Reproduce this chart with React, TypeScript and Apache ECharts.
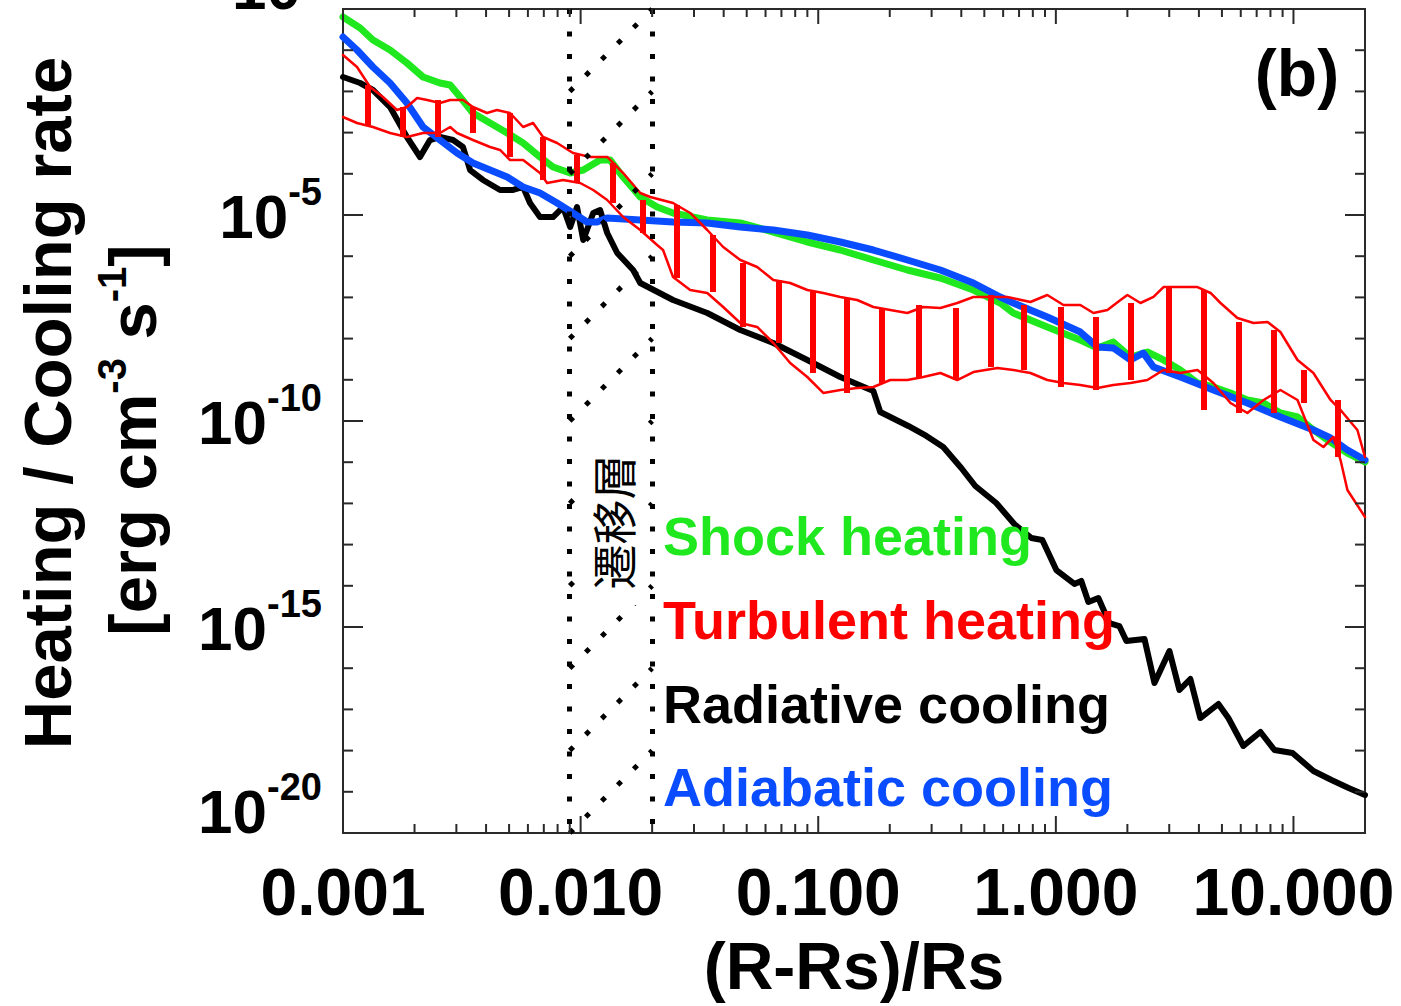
import React, { useEffect, useRef } from 'react';
import * as echarts from 'echarts';

const FONT = '"Liberation Sans", Arial, Helvetica, sans-serif';
const AXIS_COLOR = '#2a2a2a';
const GREEN = '#1fe81f';
const RED = '#ff0000';
const BLUE = '#0a4cff';

// All curve points are [log10((R-Rs)/Rs), log10(rate)].
const shockPts: [number, number][] = [
  [-3.0, -0.194], [-2.928, -0.461], [-2.874, -0.752], [-2.802, -0.995], [-2.731, -1.311], [-2.663, -1.65],
  [-2.592, -1.796], [-2.549, -1.845], [-2.507, -2.136], [-2.453, -2.524], [-2.381, -2.767], [-2.309, -3.01],
  [-2.242, -3.252], [-2.171, -3.592], [-2.116, -3.835], [-2.044, -3.981], [-1.989, -3.908], [-1.918, -3.665],
  [-1.876, -3.665], [-1.821, -4.078], [-1.749, -4.563], [-1.678, -4.806], [-1.611, -4.951], [-1.467, -5.121],
  [-1.328, -5.194], [-1.189, -5.413], [-1.046, -5.655], [-0.907, -5.85], [-0.768, -6.092], [-0.625, -6.335],
  [-0.486, -6.529], [-0.347, -6.82], [-0.234, -7.136], [-0.179, -7.379], [-0.036, -7.718], [0.103, -8.034],
  [0.175, -8.228], [0.242, -8.083], [0.314, -8.447], [0.385, -8.325], [0.453, -8.519], [0.524, -8.762],
  [0.596, -9.078], [0.663, -9.175], [0.735, -9.32], [0.806, -9.49], [0.874, -9.563], [0.945, -9.806],
  [1.017, -9.903], [1.084, -10.218], [1.156, -10.51], [1.227, -10.777], [1.301, -10.995],
];

const adiabaticPts: [number, number][] = [
  [-3.0, -0.68], [-2.941, -0.995], [-2.874, -1.408], [-2.802, -1.796], [-2.731, -2.282], [-2.663, -2.864],
  [-2.592, -3.18], [-2.52, -3.495], [-2.453, -3.738], [-2.381, -3.908], [-2.309, -4.078], [-2.242, -4.32],
  [-2.171, -4.466], [-2.099, -4.709], [-2.032, -4.951], [-1.973, -5.17], [-1.931, -5.17], [-1.888, -5.073],
  [-1.749, -5.121], [-1.611, -5.17], [-1.467, -5.194], [-1.328, -5.291], [-1.189, -5.364], [-1.046, -5.485],
  [-0.907, -5.655], [-0.768, -5.85], [-0.625, -6.092], [-0.486, -6.335], [-0.347, -6.65], [-0.234, -6.99],
  [-0.179, -7.136], [-0.036, -7.476], [0.103, -7.84], [0.175, -8.204], [0.242, -8.228], [0.314, -8.519],
  [0.368, -8.35], [0.411, -8.689], [0.524, -8.932], [0.663, -9.248], [0.806, -9.563], [0.945, -9.903],
  [1.084, -10.218], [1.156, -10.413], [1.227, -10.704], [1.301, -10.947],
];

const radiativePts: [number, number][] = [
  [-3.0, -1.65], [-2.928, -1.796], [-2.874, -1.966], [-2.802, -2.379], [-2.731, -3.107], [-2.676, -3.592],
  [-2.634, -3.18], [-2.592, -3.107], [-2.537, -3.18], [-2.495, -3.35], [-2.465, -3.908], [-2.411, -4.15],
  [-2.339, -4.393], [-2.284, -4.393], [-2.242, -4.32], [-2.213, -4.709], [-2.171, -5.049], [-2.116, -5.049],
  [-2.074, -4.806], [-2.044, -5.291], [-2.015, -4.806], [-1.989, -5.607], [-1.947, -4.951], [-1.918, -4.879],
  [-1.888, -5.437], [-1.846, -5.922], [-1.779, -6.335], [-1.749, -6.65], [-1.611, -7.063], [-1.467, -7.379],
  [-1.328, -7.791], [-1.189, -8.107], [-1.046, -8.519], [-0.907, -8.932], [-0.768, -9.272], [-0.739, -9.782],
  [-0.621, -10.121], [-0.545, -10.364], [-0.474, -10.631], [-0.398, -11.141], [-0.339, -11.578], [-0.251, -11.99],
  [-0.175, -12.5], [-0.103, -12.84], [-0.057, -12.888], [0.002, -13.617], [0.078, -13.956], [0.107, -13.883],
  [0.137, -14.393], [0.179, -14.296], [0.225, -14.903], [0.267, -14.976], [0.297, -15.34], [0.373, -15.291],
  [0.415, -16.359], [0.478, -15.583], [0.52, -16.529], [0.566, -16.262], [0.608, -17.209], [0.684, -16.869],
  [0.726, -17.209], [0.789, -17.888], [0.861, -17.549], [0.92, -17.985], [0.996, -18.058], [1.084, -18.495],
  [1.16, -18.714], [1.232, -18.908], [1.301, -19.078],
];

const turbUpperPts: [number, number][] = [
  [-3.0, -1.117], [-2.941, -1.408], [-2.886, -1.893], [-2.832, -2.136], [-2.773, -2.451], [-2.731, -2.379],
  [-2.688, -2.16], [-2.646, -2.209], [-2.592, -2.282], [-2.549, -2.209], [-2.495, -2.209], [-2.453, -2.379],
  [-2.394, -2.524], [-2.352, -2.451], [-2.297, -2.524], [-2.242, -2.864], [-2.2, -2.767], [-2.158, -3.107],
  [-2.099, -3.252], [-2.032, -3.495], [-1.96, -3.592], [-1.888, -3.592], [-1.821, -3.981], [-1.749, -4.466],
  [-1.707, -4.563], [-1.611, -4.709], [-1.539, -4.951], [-1.467, -5.364], [-1.4, -5.777], [-1.328, -6.092],
  [-1.257, -6.262], [-1.189, -6.578], [-1.118, -6.65], [-1.046, -6.82], [-0.979, -6.893], [-0.907, -6.99],
  [-0.836, -7.063], [-0.768, -7.233], [-0.697, -7.306], [-0.625, -7.379], [-0.558, -7.233], [-0.486, -7.257],
  [-0.415, -7.136], [-0.347, -6.99], [-0.276, -6.99], [-0.204, -6.99], [-0.107, -7.112], [-0.036, -6.942],
  [0.032, -7.184], [0.103, -7.184], [0.158, -7.379], [0.217, -7.306], [0.272, -7.063], [0.301, -6.942],
  [0.356, -7.136], [0.411, -6.99], [0.453, -6.748], [0.524, -6.748], [0.596, -6.748], [0.651, -6.893],
  [0.693, -7.136], [0.764, -7.5], [0.832, -7.621], [0.891, -7.597], [0.945, -7.84], [1.017, -8.519],
  [1.084, -8.835], [1.156, -9.49], [1.198, -9.733], [1.269, -10.218], [1.301, -10.874],
];

const turbLowerPts: [number, number][] = [
  [-3.0, -2.621], [-2.941, -2.767], [-2.874, -2.864], [-2.802, -3.01], [-2.731, -3.107], [-2.663, -3.01],
  [-2.592, -3.01], [-2.549, -2.864], [-2.52, -3.01], [-2.453, -3.18], [-2.381, -3.35], [-2.339, -3.422],
  [-2.297, -3.665], [-2.242, -3.665], [-2.171, -3.981], [-2.141, -4.223], [-2.074, -4.15], [-2.002, -4.223],
  [-1.947, -4.393], [-1.888, -4.636], [-1.821, -5.049], [-1.749, -5.364], [-1.678, -5.728], [-1.653, -5.85],
  [-1.611, -6.505], [-1.539, -6.82], [-1.467, -6.893], [-1.4, -7.233], [-1.328, -7.621], [-1.257, -7.718],
  [-1.189, -8.107], [-1.118, -8.592], [-1.046, -8.932], [-0.979, -9.32], [-0.907, -9.248], [-0.836, -9.199],
  [-0.768, -9.175], [-0.697, -9.005], [-0.625, -9.005], [-0.558, -8.932], [-0.486, -8.835], [-0.415, -9.005],
  [-0.347, -8.811], [-0.246, -8.714], [-0.179, -8.762], [-0.107, -8.835], [-0.036, -9.005], [0.032, -9.078],
  [0.103, -9.126], [0.175, -9.199], [0.242, -9.126], [0.314, -9.078], [0.385, -9.005], [0.453, -8.762],
  [0.524, -8.835], [0.596, -8.762], [0.663, -9.078], [0.735, -9.563], [0.806, -9.806], [0.874, -9.49],
  [0.945, -9.248], [1.017, -9.49], [1.084, -10.461], [1.126, -10.631], [1.168, -10.388], [1.198, -10.947],
  [1.227, -11.675], [1.301, -12.33],
];

// Thick red bars of the turbulent heating: [log10 x, log10 top, log10 bottom]
const turbBars: [number, number, number][] = [
  [-2.895, -1.845, -2.816], [-2.747, -2.379, -3.107], [-2.6, -2.209, -3.107], [-2.453, -2.379, -3.01],
  [-2.297, -2.524, -3.592], [-2.158, -3.107, -4.15], [-2.015, -3.544, -4.199], [-1.863, -3.738, -4.709],
  [-1.737, -4.636, -5.437], [-1.594, -4.757, -6.529], [-1.446, -5.485, -6.869], [-1.316, -6.165, -7.718],
  [-1.168, -6.578, -8.107], [-1.025, -6.869, -8.835], [-0.878, -7.015, -9.32], [-0.731, -7.257, -9.078],
  [-0.579, -7.184, -8.932], [-0.423, -7.257, -9.005], [-0.276, -6.942, -8.689], [-0.137, -7.184, -8.762],
  [0.019, -7.233, -9.175], [0.166, -7.476, -9.248], [0.314, -7.136, -9.005], [0.474, -6.772, -8.835],
  [0.621, -6.82, -9.733], [0.768, -7.597, -9.806], [0.916, -7.791, -9.806], [1.042, -8.762, -9.563],
  [1.185, -9.49, -10.874],
];

// Transition region (遷移層) boundaries and its hatching (start/end exponents)
const trLeft = 0.009;
const trRight = 0.02;
const hatchStartExps = [-20, -18, -16, -14, -12, -10, -8, -6, -4, -2];
const hatchEndExps = [-18, -16, -14, -12, -10, -8, -6, -4, -2, 0];

// Axis ticks
const X_MIN = 0.001;
const X_MAX = 20;
const Y_MIN = 1e-20;
const Y_MAX = 1;
const xMajorTicks = [0.001, 0.01, 0.1, 1, 10];
const xMinorTicks = [
  0.002, 0.003, 0.004, 0.005, 0.006, 0.007, 0.008, 0.009,
  0.02, 0.03, 0.04, 0.05, 0.06, 0.07, 0.08, 0.09,
  0.2, 0.3, 0.4, 0.5, 0.6, 0.7, 0.8, 0.9,
  2, 3, 4, 5, 6, 7, 8, 9,
];
const yMajorTicks = [1e-20, 1e-15, 1e-10, 1e-5, 1];
const yMinorTicks = [
  1e-19, 1e-18, 1e-17, 1e-16, 1e-14, 1e-13, 1e-12, 1e-11,
  1e-9, 1e-8, 1e-7, 1e-6, 1e-4, 1e-3, 1e-2, 1e-1,
];
const yLabelExps = [-20, -15, -10, -5, 0];

const legendItems = [
  { text: 'Shock heating', color: GREEN },
  { text: 'Turbulent heating', color: RED },
  { text: 'Radiative cooling', color: '#000000' },
  { text: 'Adiabatic cooling', color: BLUE },
];

const toData = (pts: [number, number][]) => pts.map(([lx, ly]) => [Math.pow(10, lx), Math.pow(10, ly)]);

const tickStyle = { stroke: AXIS_COLOR, lineWidth: 2 };

function xTickSeries(values: number[], bottomLen: number, topLen: number) {
  return {
    type: 'custom',
    coordinateSystem: 'cartesian2d',
    silent: true,
    clip: false,
    z: 20,
    data: values.map((v) => [v, 1e-10]),
    renderItem: (params: any, api: any) => {
      const cs = params.coordSys;
      const px = api.coord([api.value(0), 1e-10])[0];
      const b = cs.y + cs.height;
      const t = cs.y;
      return {
        type: 'group',
        children: [
          { type: 'line', shape: { x1: px, y1: b, x2: px, y2: b - bottomLen }, style: tickStyle },
          { type: 'line', shape: { x1: px, y1: t, x2: px, y2: t + topLen }, style: tickStyle },
        ],
      };
    },
  };
}

function yTickSeries(values: number[], leftLen: number, rightLen: number) {
  return {
    type: 'custom',
    coordinateSystem: 'cartesian2d',
    silent: true,
    clip: false,
    z: 20,
    data: values.map((v) => [0.01, v]),
    renderItem: (params: any, api: any) => {
      const cs = params.coordSys;
      const py = api.coord([0.01, api.value(1)])[1];
      const l = cs.x;
      const r = cs.x + cs.width;
      return {
        type: 'group',
        children: [
          { type: 'line', shape: { x1: l, y1: py, x2: l + leftLen, y2: py }, style: tickStyle },
          { type: 'line', shape: { x1: r, y1: py, x2: r - rightLen, y2: py }, style: tickStyle },
        ],
      };
    },
  };
}

const yLabelSeries = {
  type: 'custom',
  coordinateSystem: 'cartesian2d',
  silent: true,
  clip: false,
  z: 20,
  data: yLabelExps.map((e) => [0.01, Math.pow(10, e)]),
  renderItem: (params: any, api: any) => {
    const cs = params.coordSys;
    const e = yLabelExps[params.dataIndex];
    const py = api.coord([0.01, Math.pow(10, e)])[1];
    const isEnd = e === -20 || e === 0;
    return {
      type: 'text',
      x: cs.x - 21,
      y: py - 5 - (isEnd ? 23 : 0),
      style: {
        text: `{b|10}{s|${e}}`,
        align: 'right',
        verticalAlign: 'middle',
        fill: '#000',
        rich: {
          b: { fontSize: 62, fontWeight: 'bold', fontFamily: FONT, lineHeight: 62, verticalAlign: 'bottom', fill: '#000' },
          s: { fontSize: 38, fontWeight: 'bold', fontFamily: FONT, padding: [0, 0, 36, 0], verticalAlign: 'top', fill: '#000' },
        },
      },
    };
  },
};

function lineSeries(name: string, pts: [number, number][], color: string, width: number) {
  return {
    name,
    type: 'line',
    data: toData(pts),
    showSymbol: false,
    symbol: 'none',
    smooth: false,
    silent: true,
    lineStyle: { color, width, join: 'round', cap: 'round' },
    z: 5,
  };
}

export default function App() {
  const ref = useRef<HTMLDivElement>(null);

  useEffect(() => {
    if (!ref.current) return;
    const chart = echarts.init(ref.current, undefined, { renderer: 'svg' });

    const option: any = {
      animation: false,
      backgroundColor: '#ffffff',
      grid: {
        left: 343,
        right: 36,
        top: 9,
        bottom: 173,
        show: true,
        borderColor: AXIS_COLOR,
        borderWidth: 2,
        backgroundColor: 'transparent',
      },
      xAxis: {
        type: 'log',
        logBase: 10,
        min: X_MIN,
        max: X_MAX,
        name: '(R-Rs)/Rs',
        nameLocation: 'middle',
        nameGap: 100,
        nameTextStyle: { fontSize: 66, fontWeight: 'bold', fontFamily: FONT, color: '#000' },
        axisLine: { show: false },
        axisTick: { show: false },
        splitLine: { show: false },
        axisLabel: {
          fontSize: 66,
          lineHeight: 66,
          fontWeight: 'bold',
          fontFamily: FONT,
          color: '#000',
          margin: 26,
          formatter: (v: number) => {
            const lg = Math.log10(v);
            if (Math.abs(lg - Math.round(lg)) > 0.01) return '';
            return Math.pow(10, Math.round(lg)).toFixed(3);
          },
        },
      },
      yAxis: {
        type: 'log',
        logBase: 10,
        min: Y_MIN,
        max: Y_MAX,
        axisLine: { show: false },
        axisTick: { show: false },
        axisLabel: { show: false },
        splitLine: { show: false },
      },
      graphic: [
        {
          type: 'rect',
          z: 100,
          shape: { x: 581, y: 425, width: 61, height: 180 },
          style: { fill: '#ffffff' },
        },
        {
          type: 'text',
          z: 101,
          x: 612,
          y: 522,
          rotation: Math.PI / 2,
          style: {
            text: '遷移層',
            fontSize: 45,
            fontFamily: '"Noto Sans CJK JP", sans-serif',
            fill: '#000',
            align: 'center',
            verticalAlign: 'middle',
          },
        },
        {
          type: 'text',
          z: 101,
          x: 47,
          y: 403,
          rotation: Math.PI / 2,
          style: {
            text: 'Heating / Cooling rate',
            fontSize: 67,
            fontWeight: 'bold',
            fontFamily: FONT,
            fill: '#000',
            align: 'center',
            verticalAlign: 'middle',
          },
        },
        {
          type: 'text',
          z: 101,
          x: 129,
          y: 440,
          rotation: Math.PI / 2,
          style: {
            text: '{a|[erg cm}{s|-3}{a| s}{s|-1}{a|]}',
            align: 'center',
            verticalAlign: 'middle',
            fill: '#000',
            rich: {
              a: { fontSize: 67, fontWeight: 'bold', fontFamily: FONT, lineHeight: 67, verticalAlign: 'bottom', fill: '#000' },
              s: { fontSize: 40, fontWeight: 'bold', fontFamily: FONT, padding: [0, 0, 34, 0], verticalAlign: 'top', fill: '#000' },
            },
          },
        },
        {
          type: 'text',
          z: 101,
          x: 1297,
          y: 73,
          style: {
            text: '(b)',
            fontSize: 66,
            fontWeight: 'bold',
            fontFamily: FONT,
            fill: '#000',
            align: 'center',
            verticalAlign: 'middle',
          },
        },
        ...legendItems.map((it, i) => ({
          type: 'text',
          z: 101,
          x: 663,
          y: [536, 620, 704, 787][i],
          style: {
            text: it.text,
            fontSize: 54,
            fontWeight: 'bold',
            fontFamily: FONT,
            fill: it.color,
            align: 'left',
            verticalAlign: 'middle',
          },
        })),
      ],
      series: [
        lineSeries('Radiative cooling', radiativePts, '#000000', 6),
        lineSeries('Shock heating', shockPts, GREEN, 7),
        lineSeries('Adiabatic cooling', adiabaticPts, BLUE, 7),
        lineSeries('Turbulent heating (max)', turbUpperPts, RED, 2.5),
        lineSeries('Turbulent heating (min)', turbLowerPts, RED, 2.5),
        {
          name: 'Turbulent heating range',
          type: 'lines',
          coordinateSystem: 'cartesian2d',
          silent: true,
          z: 6,
          lineStyle: { color: RED, width: 6, opacity: 1, curveness: 0, cap: 'butt' },
          data: turbBars.map(([lx, hi, lo]) => ({
            coords: [
              [Math.pow(10, lx), Math.pow(10, hi)],
              [Math.pow(10, lx), Math.pow(10, lo)],
            ],
          })),
        },
        {
          name: 'hatch',
          type: 'lines',
          coordinateSystem: 'cartesian2d',
          silent: true,
          z: 7,
          lineStyle: { color: '#000', width: 5, opacity: 1, curveness: 0, type: [5, 17.6], cap: 'butt' },
          data: hatchStartExps.map((e, i) => ({
            coords: [
              [trLeft, Math.pow(10, e)],
              [trRight, Math.pow(10, hatchEndExps[i])],
            ],
          })),
        },
        {
          name: 'transition boundaries',
          type: 'lines',
          coordinateSystem: 'cartesian2d',
          silent: true,
          z: 8,
          lineStyle: { color: '#000', width: 5, opacity: 1, curveness: 0, type: [5, 17.5], cap: 'butt' },
          data: [trLeft, trRight].map((x) => ({
            coords: [
              [x, Y_MAX],
              [x, Y_MIN],
            ],
          })),
        },
        xTickSeries(xMajorTicks, 17, 15),
        xTickSeries(xMinorTicks, 9, 8),
        yTickSeries(yMajorTicks, 20, 20),
        yTickSeries(yMinorTicks, 10, 10),
        yLabelSeries,
      ],
    };

    chart.setOption(option);
    return () => {
      chart.dispose();
    };
  }, []);

  return (
    <div
      ref={ref}
      style={{ position: 'absolute', left: 0, top: 0, width: 1401, height: 1006, background: '#fff' }}
    />
  );
}
